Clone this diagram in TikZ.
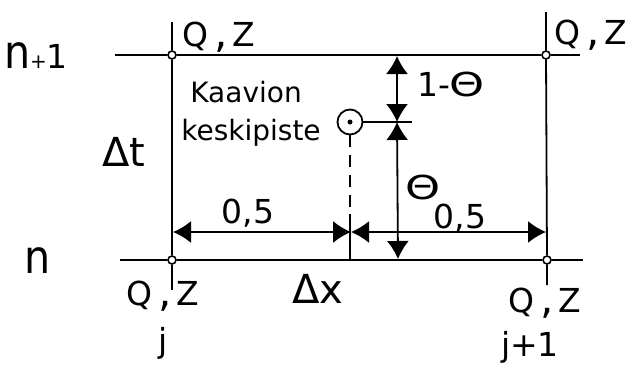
\documentclass[tikz,border=0pt]{standalone}
\usepackage{fontspec}
\setmainfont{DejaVu Sans}
\usetikzlibrary{arrows.meta}
\newcommand{\bigcomma}{\hspace{6pt}\raisebox{-1pt}{\fontsize{42}{42}\selectfont,}\hspace{5pt}}
\newcommand{\tallletter}[1]{\scalebox{1.25}[1.4]{#1}}
\newcommand{\wideth}{\scalebox{1.35}[1]{Θ}}
\begin{document}
\begin{tikzpicture}[x=1pt,y=-1pt, line width=1.8pt,
  gnode/.style={circle, draw, fill=white, inner sep=0pt, minimum size=8pt, line width=1.6pt},
  dim/.style={{Latex[length=18pt,width=22pt]}-{Latex[length=18pt,width=22pt]}, line width=1.8pt},
  lab/.style={font=\fontsize{33}{33}\selectfont, inner sep=0pt, anchor=base},
  blab/.style={font=\fontsize{40}{40}\selectfont, inner sep=0pt, anchor=base},
  slab/.style={font=\fontsize{28}{28}\selectfont, inner sep=0pt, anchor=base}]
\useasboundingbox (0,0) rectangle (628,365);
% grid nodes
\node[gnode] (a) at (172,55) {};
\node[gnode] (b) at (546,55) {};
\node[gnode] (c) at (172,260) {};
\node[gnode] (d) at (547,260) {};
\coordinate (tl) at (115,55);
\coordinate (tr) at (580,55);
\coordinate (bl) at (120,260);
\coordinate (br) at (583,260);
\coordinate (lt) at (172,22);
\coordinate (lb) at (172,290);
\coordinate (rt) at (546,12);
\coordinate (rb) at (547,285);
\draw (tl) -- (a) -- (b) -- (tr);
\draw (bl) -- (c) -- (d) -- (br);
\draw (lt) -- (a) -- (c) -- (lb);
\draw (rt) -- (b) -- (d) -- (rb);
% horizontal dimension
\coordinate (hc) at (351,232);
\coordinate (hl) at (173,232);
\coordinate (hr) at (546,232);
\draw[dim] (hc) -- (hl);
\draw[dim] (hc) -- (hr);
% vertical dimension
\coordinate (vc) at (397,122);
\coordinate (vt) at (397,56);
\coordinate (vb) at (398,259);
\draw[dim] (vc) -- (vt);
\draw[dim] (vc) -- (vb);
% centre point
\node[circle, draw, minimum size=25pt, inner sep=0pt, line width=1.8pt] (cp) at (350,122) {};
\node[circle, fill, minimum size=5pt, inner sep=0pt] (cpd) at (cp) {};
\coordinate (vce) at (412,122);
\draw (cp.east) -- (vce);
\coordinate (dmid) at (350,214);
\coordinate (dbot) at (350,260);
\draw[dash pattern=on 12pt off 8pt] (cp.south) -- (dmid);
\draw (dmid) -- (dbot);
% labels
\node[lab] (n1) at (36,68) {\tallletter{n}{\fontsize{20}{20}\selectfont+}1};
\node[lab] (n0) at (38,273) {\tallletter{n}};
\node[blab] (dt) at (124,166) {Δt};
\node[lab] (q1) at (219,46) {Q\bigcomma Z};
\node[lab] (q2) at (591,44) {Q\bigcomma Z};
\node[lab] (q3) at (163,305) {Q\bigcomma Z};
\node[lab] (q4) at (545,312) {Q\bigcomma Z};
\node[lab] (j0) at (163,352) {j};
\node[lab] (j1) at (530,356) {j+1};
\node[blab] (dx) at (318,303) {Δx};
\node[slab] (k1) at (246,102) {Kaavion};
\node[slab] (k2) at (251,140) {keskipiste};
\node[lab] (th1) at (451,96) {1-\wideth};
\node[lab] (th2) at (423,199) {\wideth};
\node[lab] (h1) at (248,223) {0,5};
\node[lab] (h2) at (460,228) {0,5};
\end{tikzpicture}
\end{document}
